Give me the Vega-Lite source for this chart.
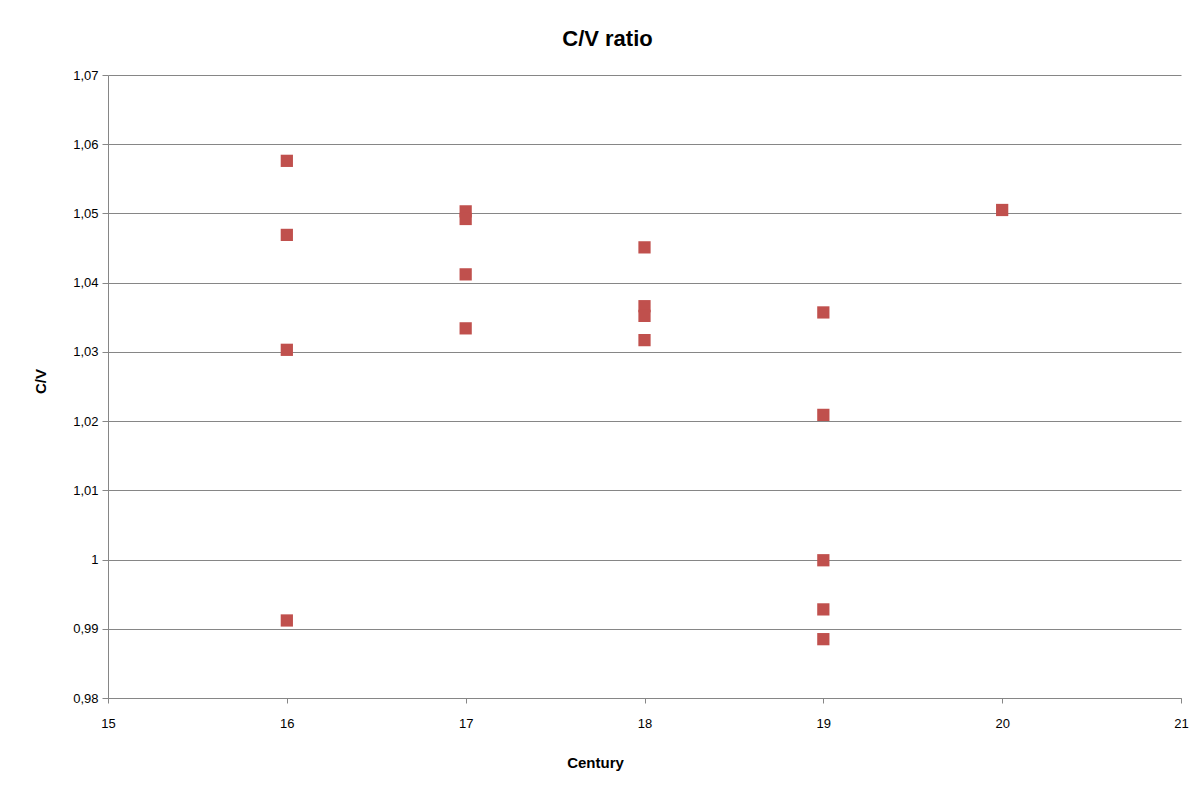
{
  "$schema": "https://vega.github.io/schema/vega-lite/v6.json",
  "autosize": {"type": "none"},
  "padding": {"left": 108, "top": 75, "right": 22, "bottom": 89},
  "width": 1073,
  "height": 623,
  "background": "white",
  "config": {
    "locale": {"number": {"decimal": ",", "thousands": ".", "grouping": [3], "currency": ["", " €"]}},
    "view": {"stroke": null},
    "font": "Liberation Sans"
  },
  "title": {
    "text": "C/V ratio",
    "fontSize": 22,
    "fontWeight": "bold",
    "font": "Liberation Sans",
    "color": "#000000",
    "anchor": "middle",
    "dx": -37,
    "offset": 18
  },
  "data": {
    "values": [
      {"century": 16, "cv": 1.0576},
      {"century": 16, "cv": 1.0469},
      {"century": 16, "cv": 1.0303},
      {"century": 16, "cv": 0.9912},
      {"century": 17, "cv": 1.0503},
      {"century": 17, "cv": 1.0492},
      {"century": 17, "cv": 1.0412},
      {"century": 17, "cv": 1.0334},
      {"century": 18, "cv": 1.0451},
      {"century": 18, "cv": 1.0366},
      {"century": 18, "cv": 1.0352},
      {"century": 18, "cv": 1.0317},
      {"century": 19, "cv": 1.0357},
      {"century": 19, "cv": 1.0209},
      {"century": 19, "cv": 0.9999},
      {"century": 19, "cv": 0.9928},
      {"century": 19, "cv": 0.9885},
      {"century": 20, "cv": 1.0505}
    ]
  },
  "mark": {"type": "point", "shape": "square", "filled": true, "size": 150, "color": "#C0504D", "opacity": 1},
  "encoding": {
    "x": {
      "field": "century",
      "type": "quantitative",
      "scale": {"domain": [15, 21], "nice": false, "zero": false},
      "axis": {
        "title": "Century",
        "values": [15, 16, 17, 18, 19, 20, 21],
        "format": "~g",
        "grid": false,
        "labelFlush": false,
        "domainColor": "#868686",
        "tickColor": "#868686",
        "tickSize": 5,
        "labelPadding": 14,
        "labelFontSize": 13,
        "labelColor": "#000000",
        "titleFontSize": 15,
        "titleFontWeight": "bold",
        "titleColor": "#000000",
        "titleX": 487,
        "titleY": 64,
        "titleBaseline": "middle",
        "titleAlign": "center"
      }
    },
    "y": {
      "field": "cv",
      "type": "quantitative",
      "scale": {"domain": [0.98, 1.07], "nice": false, "zero": false},
      "axis": {
        "title": "C/V",
        "values": [0.98, 0.99, 1, 1.01, 1.02, 1.03, 1.04, 1.05, 1.06, 1.07],
        "format": "~g",
        "grid": true,
        "labelFlush": false,
        "gridColor": "#868686",
        "domainColor": "#868686",
        "tickColor": "#868686",
        "tickSize": 6,
        "labelPadding": 4,
        "labelFontSize": 13,
        "labelColor": "#000000",
        "titleFontSize": 15,
        "titleFontWeight": "bold",
        "titleColor": "#000000",
        "titleAngle": -90,
        "titleX": -68,
        "titleY": 306,
        "titleBaseline": "middle",
        "titleAlign": "center"
      }
    }
  }
}
